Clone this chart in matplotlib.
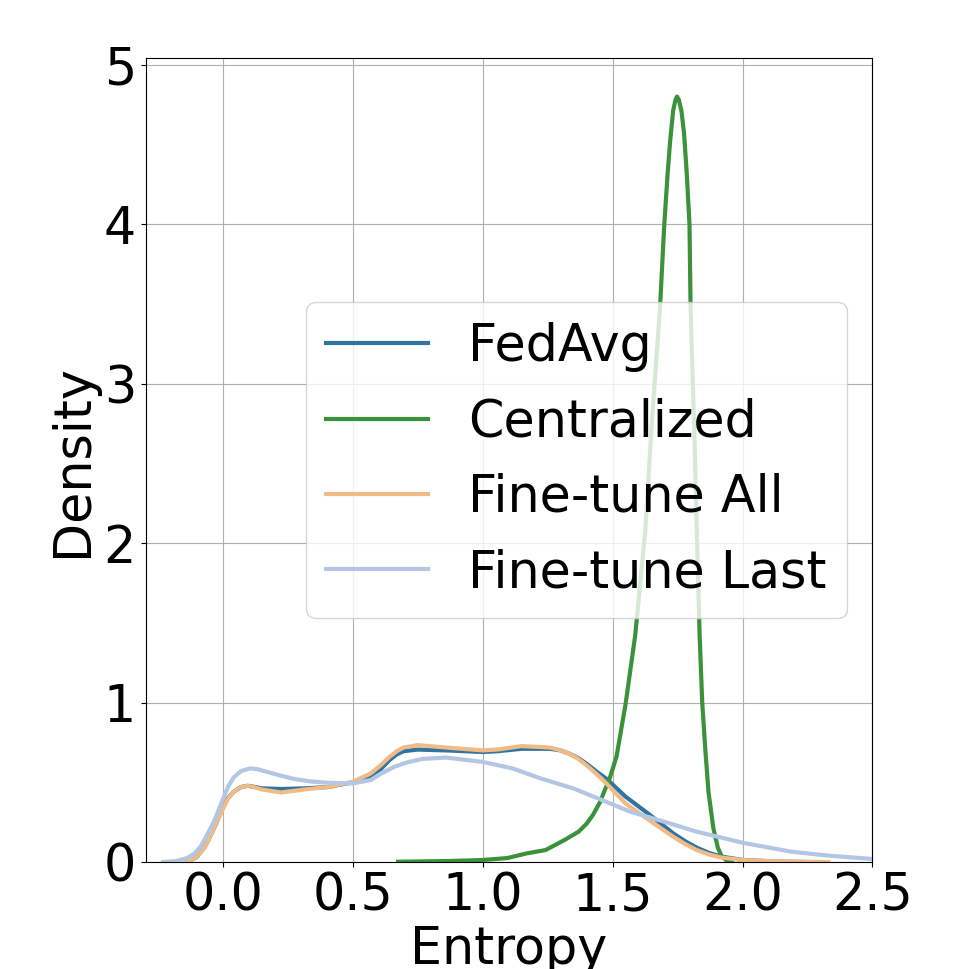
import matplotlib
matplotlib.use("Agg")
import matplotlib.pyplot as plt

# density curves (entropy, density)
fedavg_x = [-0.14, -0.10, -0.067, -0.031, 0.0, 0.02, 0.042, 0.07, 0.096, 0.12, 0.15, 0.224,
            0.315, 0.405, 0.5, 0.569, 0.61, 0.642, 0.67, 0.696, 0.75, 0.86, 1.0, 1.06, 1.15,
            1.26, 1.30, 1.333, 1.37, 1.405, 1.44, 1.478, 1.55, 1.64, 1.733, 1.78, 1.824,
            1.87, 1.915, 2.0, 2.13, 2.25]
fedavg_y = [0.0, 0.03, 0.10, 0.22, 0.34, 0.40, 0.44, 0.47, 0.478, 0.472, 0.462, 0.458,
            0.462, 0.47, 0.50, 0.54, 0.585, 0.64, 0.675, 0.695, 0.705, 0.70, 0.69, 0.695, 0.71,
            0.71, 0.70, 0.68, 0.65, 0.61, 0.565, 0.52, 0.41, 0.30, 0.18, 0.13, 0.09,
            0.058, 0.035, 0.013, 0.003, 0.0]

central_x = [0.675, 0.86, 1.0, 1.096, 1.169, 1.242, 1.315, 1.369, 1.40, 1.424, 1.45, 1.465,
             1.49, 1.515, 1.53, 1.55, 1.587, 1.626, 1.65, 1.683, 1.699, 1.712, 1.722, 1.733,
             1.742, 1.748, 1.755, 1.765, 1.775, 1.785, 1.796, 1.80, 1.814, 1.824, 1.835,
             1.845, 1.857, 1.869, 1.888, 1.905, 1.92, 1.94, 1.96]
central_y = [0.002, 0.006, 0.0125, 0.025, 0.054, 0.075, 0.138, 0.19, 0.24, 0.294, 0.37, 0.43,
             0.53, 0.66, 0.80, 0.99, 1.42, 2.08, 2.73, 3.49, 4.0, 4.32, 4.53, 4.71,
             4.78, 4.80, 4.78, 4.71, 4.57, 4.33, 4.0, 3.49, 2.73, 2.08, 1.42,
             1.0, 0.70, 0.44, 0.21, 0.09, 0.035, 0.008, 0.0]

ft_all_x = [-0.14, -0.10, -0.067, -0.031, 0.0, 0.02, 0.042, 0.07, 0.096, 0.12, 0.15, 0.224,
            0.315, 0.405, 0.5, 0.569, 0.61, 0.642, 0.67, 0.696, 0.75, 0.86, 1.0, 1.06, 1.15,
            1.26, 1.30, 1.333, 1.37, 1.405, 1.44, 1.478, 1.55, 1.64, 1.733, 1.78, 1.824,
            1.87, 1.915, 2.0, 2.13, 2.33]
ft_all_y = [0.0, 0.03, 0.096, 0.22, 0.33, 0.395, 0.44, 0.47, 0.478, 0.47, 0.455, 0.436,
            0.455, 0.47, 0.503, 0.555, 0.61, 0.66, 0.695, 0.718, 0.733, 0.718, 0.70, 0.706,
            0.727, 0.718, 0.70, 0.68, 0.645, 0.60, 0.55, 0.49, 0.367, 0.263, 0.159, 0.112,
            0.075, 0.048, 0.029, 0.0125, 0.004, 0.0]

ft_last_x = [-0.23, -0.18, -0.14, -0.11, -0.085, -0.06, -0.031, 0.0, 0.02, 0.042, 0.07,
             0.105, 0.135, 0.169, 0.22, 0.278, 0.34, 0.405, 0.5, 0.569, 0.61, 0.66, 0.71,
             0.769, 0.86, 1.0, 1.115, 1.224, 1.35, 1.46, 1.569, 1.678, 1.824, 2.0, 2.187,
             2.33, 2.5]
ft_last_y = [0.0, 0.006, 0.023, 0.05, 0.096, 0.17, 0.263, 0.39, 0.47, 0.53, 0.57, 0.587,
             0.582, 0.566, 0.543, 0.52, 0.505, 0.497, 0.493, 0.514, 0.555, 0.597, 0.625,
             0.647, 0.655, 0.628, 0.587, 0.524, 0.461, 0.388, 0.315, 0.263, 0.19, 0.121,
             0.065, 0.04, 0.019]

labels = ["FedAvg", "Centralized", "Fine-tune All", "Fine-tune Last"]
colors = ["#3274a1", "#3a923a", "#f0bb87", "#b3c6e3"]

plt.rcParams["font.size"] = 36.5
fig = plt.figure(figsize=(9.69, 9.69), dpi=100)
ax = fig.add_axes([0.1504, 0.1104, 0.750, 0.8294])

series = [(fedavg_x, fedavg_y), (central_x, central_y), (ft_all_x, ft_all_y), (ft_last_x, ft_last_y)]
for (xs, ys), lab, c in zip(series, labels, colors):
    ax.plot(xs, ys, color=c, lw=3, label=lab)

ax.set_xlim(-0.296, 2.5)
ax.set_ylim(0, 5.04)
ax.set_xticks([0.0, 0.5, 1.0, 1.5, 2.0, 2.5])
ax.set_yticks([0, 1, 2, 3, 4, 5])
ax.grid(True)
ax.set_xlabel("Entropy", labelpad=2)
ax.set_ylabel("Density")
ax.legend(loc="center right")

plt.savefig("out.png", dpi=100)
